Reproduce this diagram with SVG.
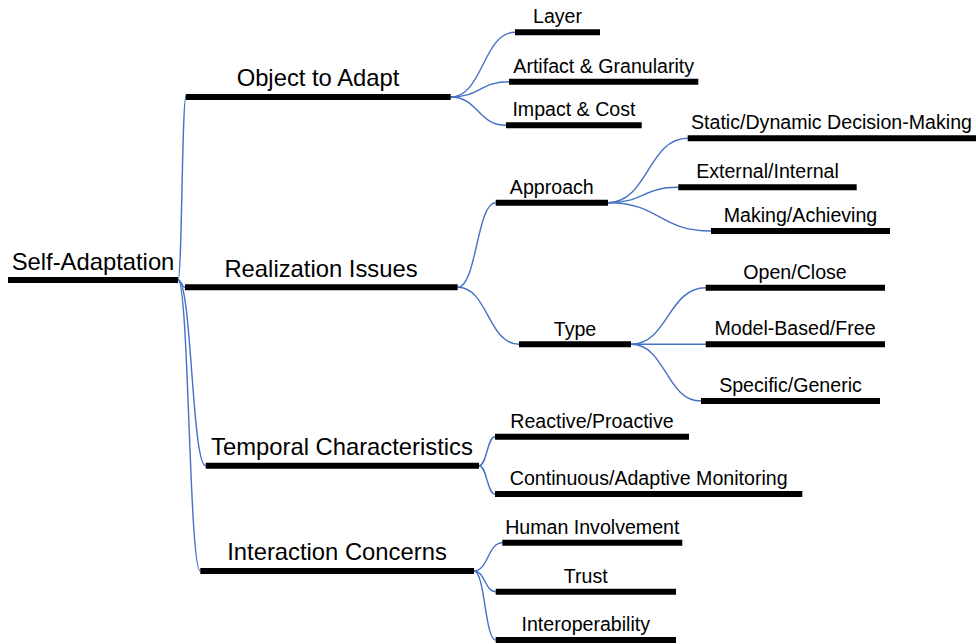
<svg xmlns="http://www.w3.org/2000/svg" width="976" height="644" viewBox="0 0 976 644">
<style>
.c{fill:none;stroke:#4472C4;stroke-width:1.4}
.b{stroke:#000;stroke-width:6;stroke-linecap:butt}
.t1{font-family:"Liberation Sans",Arial,sans-serif;font-size:23.8px;fill:#000;text-anchor:middle}
.t2{font-family:"Liberation Sans",Arial,sans-serif;font-size:19.6px;fill:#000;text-anchor:middle}
</style>
<rect width="976" height="644" fill="#fff"/>
<g id="connectors">
<path class="c" d="M178,280 C182,280 182,97 186,97"/>
<path class="c" d="M178,280 C181.5,280 181.5,287.3 185,287.3"/>
<path class="c" d="M178,280 C191.8,280 191.8,465.7 205.7,465.7"/>
<path class="c" d="M178,280 C189,280 189,571 200.3,571"/>
<path class="c" d="M450.7,97 C483,97 483,32.3 515,32.3"/>
<path class="c" d="M450.7,97 C480,97 480,81.7 509,81.7"/>
<path class="c" d="M450.7,97 C478,97 478,125.3 506,125.3"/>
<path class="c" d="M457.7,287.3 C476.7,287.3 476.7,202.7 495.7,202.7"/>
<path class="c" d="M457.7,287.3 C488,287.3 488,344.3 519,344.3"/>
<path class="c" d="M608,202.7 C648,202.7 648,138.3 687.7,138.3"/>
<path class="c" d="M608,202.7 C643,202.7 643,187.3 678.3,187.3"/>
<path class="c" d="M608,202.7 C659.5,202.7 659.5,231 711,231"/>
<path class="c" d="M631,344.3 C668,344.3 668,287.7 705.7,287.7"/>
<path class="c" d="M631,344.3 L705.7,344.3"/>
<path class="c" d="M631,344.3 C666,344.3 666,401 701,401"/>
<path class="c" d="M479,465.7 C487,465.7 487,436.7 495,436.7"/>
<path class="c" d="M479,465.7 C487,465.7 487,494 495,494"/>
<path class="c" d="M474,571 C488,571 488,542.7 502.3,542.7"/>
<path class="c" d="M474,571 C485,571 485,591.7 495.7,591.7"/>
<path class="c" d="M474,571 C485,571 485,640 495.7,640"/>
</g>
<g id="self-adaptation"><line class="b" x1="8" y1="280" x2="178" y2="280"/><text class="t1" x="93" y="269.5">Self-Adaptation</text></g>
<g id="object-to-adapt"><line class="b" x1="185.7" y1="97" x2="450.7" y2="97"/><text class="t1" x="318" y="86">Object to Adapt</text></g>
<g id="realization-issues"><line class="b" x1="185" y1="287.3" x2="457.7" y2="287.3"/><text class="t1" x="321" y="276.5">Realization Issues</text></g>
<g id="temporal-characteristics"><line class="b" x1="205.7" y1="465.7" x2="479" y2="465.7"/><text class="t1" x="342" y="454.7">Temporal Characteristics</text></g>
<g id="interaction-concerns"><line class="b" x1="200.3" y1="571" x2="474" y2="571"/><text class="t1" x="337" y="560">Interaction Concerns</text></g>
<g id="layer"><line class="b" x1="515" y1="32.3" x2="600" y2="32.3"/><text class="t2" x="557.5" y="23.3">Layer</text></g>
<g id="artifact-granularity"><line class="b" x1="509" y1="81.7" x2="698.3" y2="81.7"/><text class="t2" x="603.7" y="72.7">Artifact &amp; Granularity</text></g>
<g id="impact-cost"><line class="b" x1="506" y1="125.3" x2="641.7" y2="125.3"/><text class="t2" x="573.9" y="116.3">Impact &amp; Cost</text></g>
<g id="approach"><line class="b" x1="495.7" y1="202.7" x2="608" y2="202.7"/><text class="t2" x="551.8" y="193.5">Approach</text></g>
<g id="static-dynamic"><line class="b" x1="687.7" y1="138.3" x2="980" y2="138.3"/><text class="t2" x="691" y="129.3" style="text-anchor:start">Static/Dynamic Decision-Making</text></g>
<g id="external-internal"><line class="b" x1="678.3" y1="187.3" x2="856.7" y2="187.3"/><text class="t2" x="767.5" y="178.3">External/Internal</text></g>
<g id="making-achieving"><line class="b" x1="711" y1="231" x2="890" y2="231"/><text class="t2" x="800.5" y="222">Making/Achieving</text></g>
<g id="type"><line class="b" x1="519" y1="344.3" x2="631" y2="344.3"/><text class="t2" x="575" y="335.5">Type</text></g>
<g id="open-close"><line class="b" x1="705.7" y1="287.7" x2="885" y2="287.7"/><text class="t2" x="795" y="278.7">Open/Close</text></g>
<g id="model-based-free"><line class="b" x1="705.7" y1="344.3" x2="885" y2="344.3"/><text class="t2" x="795" y="335.3">Model-Based/Free</text></g>
<g id="specific-generic"><line class="b" x1="701" y1="401" x2="880" y2="401"/><text class="t2" x="790.5" y="392">Specific/Generic</text></g>
<g id="reactive-proactive"><line class="b" x1="495" y1="436.7" x2="689" y2="436.7"/><text class="t2" x="592" y="427.5">Reactive/Proactive</text></g>
<g id="continuous-adaptive"><line class="b" x1="495" y1="494" x2="802.3" y2="494"/><text class="t2" x="648.7" y="485">Continuous/Adaptive Monitoring</text></g>
<g id="human-involvement"><line class="b" x1="502.3" y1="542.7" x2="682.3" y2="542.7"/><text class="t2" x="592.3" y="533.7">Human Involvement</text></g>
<g id="trust"><line class="b" x1="495.7" y1="591.7" x2="676" y2="591.7"/><text class="t2" x="585.8" y="582.7">Trust</text></g>
<g id="interoperability"><line class="b" x1="495.7" y1="640" x2="676" y2="640"/><text class="t2" x="585.8" y="631">Interoperability</text></g>
</svg>
